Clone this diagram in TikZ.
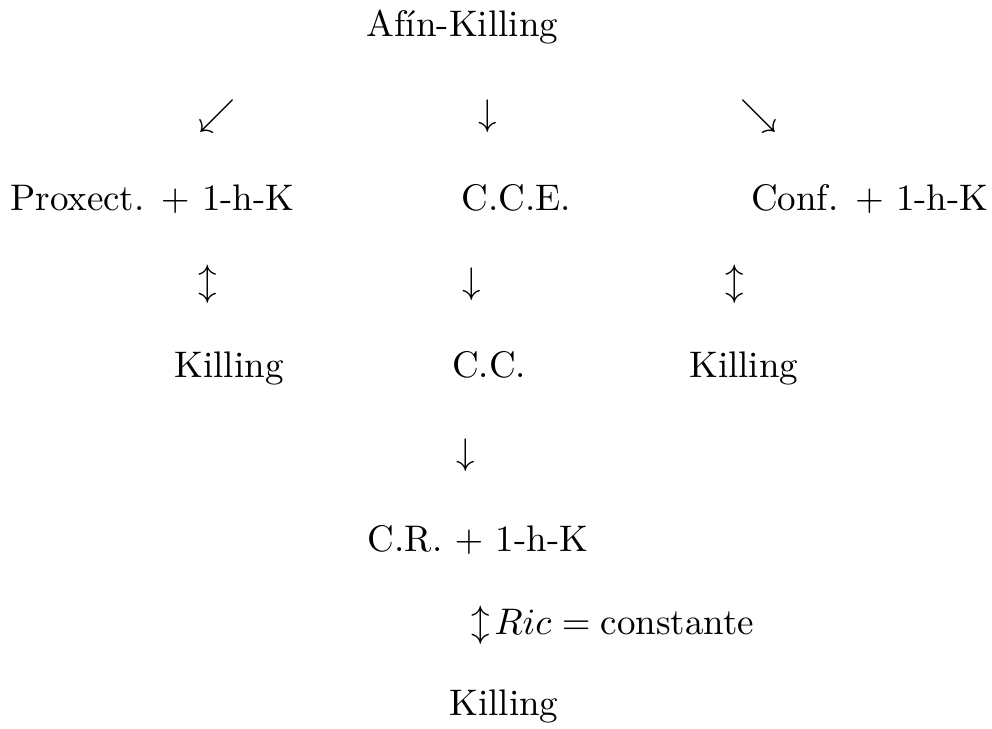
\documentclass[tikz,border=0pt]{standalone}
\usepackage{fontspec}
\usepackage{amsmath}
\usepackage{tikz}
\usetikzlibrary{positioning, calc}
\tikzstyle{basic} = [inner sep=0pt, anchor=base, text=black]
\tikzstyle{glyph} = [basic]

\begin{document}
\begin{tikzpicture}[node distance=0mm]

\useasboundingbox (-125.0pt,10.0pt) rectangle (143.1pt,-186.8pt);

\node (afin) [basic] at (0,0) {Afín-Killing};

\node (arrL) [glyph, xshift=-66.4pt, yshift=-23.8pt] at(afin.base) {$\swarrow$};
\node (arrC) [glyph, xshift=6.9pt, yshift=-23.8pt] at(afin.base) {$\downarrow$};
\node (arrR) [glyph, xshift=80.1pt, yshift=-23.8pt] at(afin.base) {$\searrow$};

\node (proxect) [basic, xshift=-17.4pt, yshift=-23.2pt] at(arrL.base) {Proxect. $+$ 1-h-K};
\node (cce) [basic, xshift=7.7pt, yshift=-23.2pt] at(arrC.base) {C.C.E.};
\node (conf) [basic, xshift=30.0pt, yshift=-23.2pt] at(arrR.base) {Conf. $+$ 1-h-K};

\node (dL) [glyph, xshift=15.0pt, yshift=-22.4pt] at(proxect.base) {$\updownarrow$};
\node (dC) [glyph, xshift=-12.0pt, yshift=-22.4pt] at(cce.base) {$\downarrow$};
\node (dR) [glyph, xshift=-36.5pt, yshift=-22.4pt] at(conf.base) {$\updownarrow$};

\node (killL) [basic, xshift=5.7pt, yshift=-22.7pt] at(dL.base) {Killing};
\node (cc) [basic, xshift=4.6pt, yshift=-22.7pt] at(dC.base) {C.C.};
\node (killR) [basic, xshift=2.4pt, yshift=-22.7pt] at(dR.base) {Killing};

\node (dCC) [glyph, xshift=-6.2pt, yshift=-23.5pt] at(cc.base) {$\downarrow$};
\node (cr) [basic, xshift=3.2pt, yshift=-23.5pt] at(dCC.base) {C.R. $+$ 1-h-K};

\node (ric) [basic, anchor=base west, xshift=-1.9pt, yshift=-22.4pt] at(cr.base) {$\mathord{\updownarrow}\mkern2mu Ric = \mbox{constante}$};
\node (killB) [basic, xshift=8.9pt, yshift=-21.9pt] at(ric.base west) {Killing};

\end{tikzpicture}
\end{document}
